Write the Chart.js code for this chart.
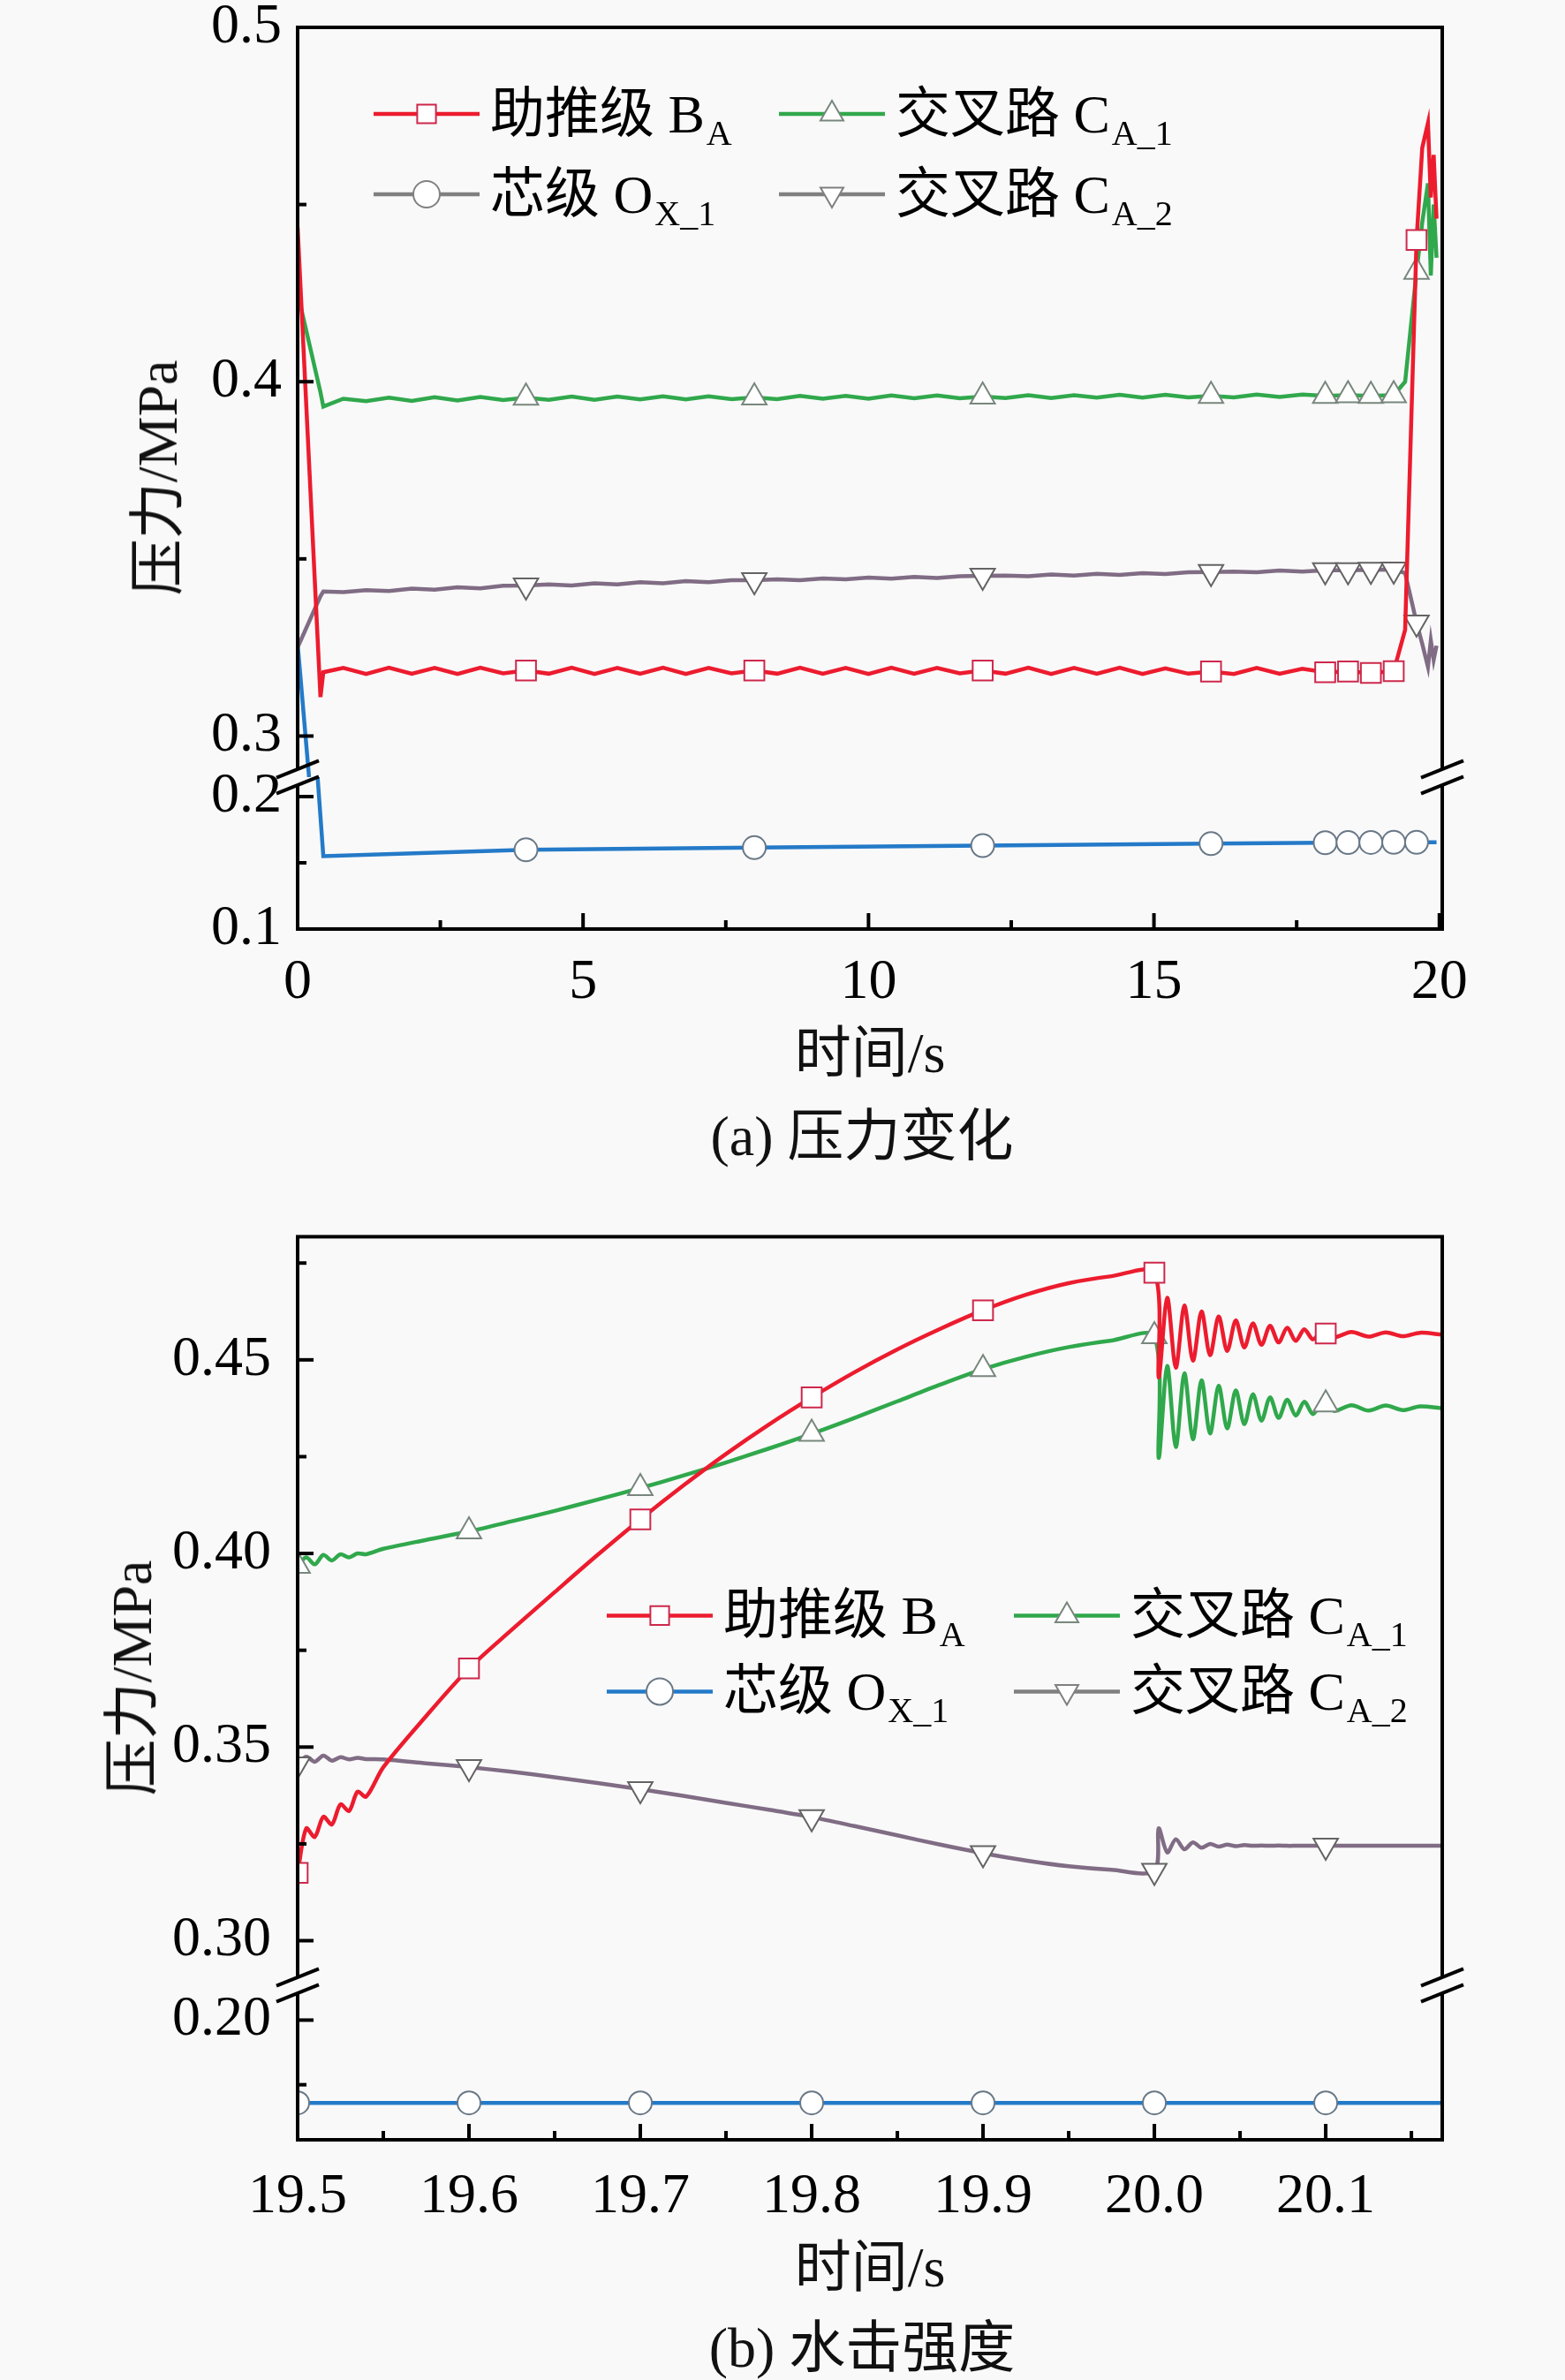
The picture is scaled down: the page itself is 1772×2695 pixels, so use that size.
<!DOCTYPE html>
<html>
<head>
<meta charset="utf-8">
<script src="https://cdn.jsdelivr.net/npm/chart.js@4.4.1/dist/chart.umd.min.js"></script>
<style>
  body { margin: 0; background: #f9f9f9; width: 1772px; height: 2695px; position: relative; overflow: hidden;
         font-family: "Liberation Serif", "Noto Sans CJK SC", serif; }
  .box { position: absolute; left: 0; width: 1772px; }
  .lbl { position: absolute; font-size: 64px; color: #111; white-space: nowrap; transform: translate(-50%, -50%); }
  .ylbl { transform: translate(-50%, -50%) rotate(-90deg); }
</style>
</head>
<body>
<div class="box" style="top:-20px;height:1172px"><canvas id="chartA"></canvas></div>
<div class="box" style="top:1340px;height:1200px"><canvas id="chartB"></canvas></div>

<div class="lbl" style="left:985px;top:1186px">时间/s</div>
<div class="lbl" style="left:976px;top:1280px">(a) 压力变化</div>
<div class="lbl ylbl" style="left:172px;top:541px">压力/MPa</div>
<div class="lbl" style="left:985px;top:2561px">时间/s</div>
<div class="lbl" style="left:976px;top:2652px">(b) 水击强度</div>
<div class="lbl ylbl" style="left:143px;top:1900px">压力/MPa</div>

<script>
// ---- (a) 压力变化, 0 ~ 20 s ----
const topTime = [0, 0.4, 0.45,
  0.8, 1.2, 1.6, 2.0, 2.4, 2.8, 3.2, 3.6, 4.0, 4.4, 4.8, 5.2,
  5.6, 6.0, 6.4, 6.8, 7.2, 7.6, 8.0, 8.4, 8.8, 9.2, 9.6, 10.0,
  10.4, 10.8, 11.2, 11.6, 12.0, 12.4, 12.8, 13.2, 13.6, 14.0, 14.4, 14.8,
  15.2, 15.6, 16.0, 16.4, 16.8, 17.2, 17.6, 18.0, 18.4, 18.8, 19.2,
  19.4, 19.6, 19.7, 19.8, 19.85, 19.9, 19.95]

// 助推级 B_A
const topBoost = [0.4435, 0.3110, 0.3180,
  0.3192, 0.3175, 0.3193, 0.3176, 0.3192, 0.3175, 0.3193, 0.3177, 0.3185, 0.3176, 0.3193, 0.3175,
  0.3192, 0.3176, 0.3193, 0.3175, 0.3192, 0.3177, 0.3185, 0.3176, 0.3193, 0.3176, 0.3192, 0.3175,
  0.3193, 0.3176, 0.3192, 0.3177, 0.3185, 0.3176, 0.3193, 0.3175, 0.3192, 0.3176, 0.3193, 0.3175,
  0.3191, 0.3176, 0.3182, 0.3175, 0.3192, 0.3176, 0.3190, 0.3180, 0.3182, 0.3178, 0.3183,
  0.3300, 0.4400, 0.4660, 0.4730, 0.4520, 0.4640, 0.4460]

// 交叉路 C_A_1
const topCross1 = [0.4250, 0.3970, 0.3930,
  0.3952, 0.3945, 0.3955, 0.3946, 0.3956, 0.3947, 0.3957, 0.3948, 0.3955, 0.3949, 0.3958, 0.3949,
  0.3958, 0.3950, 0.3959, 0.3950, 0.3959, 0.3951, 0.3956, 0.3951, 0.3960, 0.3952, 0.3960, 0.3952,
  0.3961, 0.3953, 0.3961, 0.3953, 0.3958, 0.3954, 0.3962, 0.3954, 0.3962, 0.3955, 0.3963, 0.3955,
  0.3963, 0.3956, 0.3960, 0.3956, 0.3964, 0.3957, 0.3964, 0.3960, 0.3962, 0.3960, 0.3962,
  0.4000, 0.4310, 0.4450, 0.4560, 0.4300, 0.4500, 0.4350]

// 交叉路 C_A_2
const topCross2 = [0.3250, 0.3395, 0.3408,
  0.3406, 0.3412, 0.3409, 0.3416, 0.3413, 0.3420, 0.3417, 0.3424, 0.3425, 0.3428, 0.3425, 0.3431,
  0.3428, 0.3434, 0.3431, 0.3437, 0.3434, 0.3440, 0.3440, 0.3442, 0.3440, 0.3445, 0.3442, 0.3447,
  0.3444, 0.3449, 0.3446, 0.3451, 0.3452, 0.3453, 0.3451, 0.3456, 0.3453, 0.3458, 0.3455, 0.3460,
  0.3457, 0.3462, 0.3463, 0.3464, 0.3462, 0.3467, 0.3464, 0.3468, 0.3468, 0.3469, 0.3470,
  0.3460, 0.3320, 0.3260, 0.3195, 0.3270, 0.3215, 0.3255]

// 芯级 O_X_1 (starts above the axis break, then drops below it)
const topCoreHeadTime = [0, 0.2]
const topCoreHead = [0.3260, 0.2884]
const topCoreTime = [0.35, 0.45, 4, 8, 12, 16, 18, 18.4, 18.8, 19.2, 19.6, 19.95]
const topCore = [0.2147, 0.1550, 0.1598, 0.1615, 0.1630, 0.1645, 0.1652, 0.1653, 0.1654, 0.1655, 0.1655, 0.1656]

const topMarks = [4, 8, 12, 16, 18, 18.4, 18.8, 19.2, 19.6]
const topXMajor = [0, 5, 10, 15, 20]
const topXMinor = [2.5, 7.5, 12.5, 17.5]
const topHiMajor = [0.3, 0.4, 0.5]
const topHiMinor = [0.35, 0.45]
const topLoMajor = [0.1, 0.2]
const topLoMinor = [0.15]

// ---- (b) 水击强度, 19.5 ~ 20.17 s ----
const botTime = [19.5, 19.505, 19.51, 19.515, 19.52, 19.525, 19.53, 19.535, 19.54,
  19.55, 19.575, 19.6, 19.625, 19.65, 19.675, 19.7, 19.725, 19.75, 19.775,
  19.8, 19.825, 19.85, 19.875, 19.9, 19.925, 19.95, 19.975, 20.0,
  20.0025, 20.0075, 20.0125, 20.0175, 20.0225, 20.0275, 20.0325, 20.0375, 20.0425, 20.0475,
  20.0525, 20.0575, 20.0625, 20.0675, 20.0725, 20.0775, 20.0825, 20.0875, 20.0925, 20.0975,
  20.1, 20.105, 20.115, 20.125, 20.135, 20.145, 20.155, 20.168]

const botBoost = [0.3175, 0.3290, 0.3268, 0.3320, 0.3300, 0.3352, 0.3335, 0.3385, 0.3372,
  0.3448, 0.3580, 0.3703, 0.3803, 0.3900, 0.3996, 0.4088, 0.4175, 0.4257, 0.4333,
  0.4403, 0.4468, 0.4527, 0.4580, 0.4628, 0.4668, 0.4698, 0.4716, 0.4725,
  0.4455, 0.4660, 0.4480, 0.4640, 0.4498, 0.4625, 0.4512, 0.4612, 0.4523, 0.4602,
  0.4532, 0.4594, 0.4539, 0.4588, 0.4545, 0.4583, 0.4549, 0.4579, 0.4553, 0.4575,
  0.4568, 0.4558, 0.4572, 0.4560, 0.4571, 0.4561, 0.4570, 0.4565]

const botCross1 = [0.3968, 0.3990, 0.3972, 0.3996, 0.3982, 0.3998, 0.3990, 0.4000, 0.3998,
  0.4012, 0.4035, 0.4057, 0.4083, 0.4110, 0.4139, 0.4169, 0.4201, 0.4235, 0.4271,
  0.4309, 0.4350, 0.4393, 0.4436, 0.4476, 0.4508, 0.4533, 0.4550, 0.4561,
  0.4247, 0.4484, 0.4275, 0.4465, 0.4295, 0.4447, 0.4310, 0.4433, 0.4323, 0.4421,
  0.4334, 0.4411, 0.4343, 0.4403, 0.4350, 0.4397, 0.4356, 0.4392, 0.4360, 0.4388,
  0.4385, 0.4368, 0.4383, 0.4369, 0.4382, 0.4370, 0.4380, 0.4375]

const botCross2 = [0.3455, 0.3475, 0.3462, 0.3478, 0.3465, 0.3474, 0.3468, 0.3472, 0.3469,
  0.3468, 0.3458, 0.3448, 0.3436, 0.3422, 0.3407, 0.3391, 0.3374, 0.3356, 0.3338,
  0.3319, 0.3296, 0.3272, 0.3248, 0.3226, 0.3207, 0.3192, 0.3183, 0.3180,
  0.3290, 0.3228, 0.3262, 0.3236, 0.3254, 0.3240, 0.3250, 0.3243, 0.3248, 0.3244,
  0.3247, 0.3245, 0.3246, 0.3245, 0.3246, 0.3245, 0.3245, 0.3245, 0.3245, 0.3245,
  0.3245, 0.3245, 0.3245, 0.3245, 0.3245, 0.3245, 0.3245, 0.3245]

const botCoreTime = [19.5, 19.6, 19.7, 19.8, 19.9, 20.0, 20.1, 20.168]
const botCore = [0.168, 0.168, 0.168, 0.168, 0.168, 0.168, 0.168, 0.168]

const botMarks = [19.5, 19.6, 19.7, 19.8, 19.9, 20.0, 20.1]
const botXMajor = [19.5, 19.6, 19.7, 19.8, 19.9, 20.0, 20.1]
const botXMinor = [19.55, 19.65, 19.75, 19.85, 19.95, 20.05, 20.15]
const botHiMajor = [0.30, 0.35, 0.40, 0.45]
const botHiMinor = [0.325, 0.375, 0.425, 0.475]
const botLoMajor = [0.20]
const botLoMinor = [0.175]

// ---- style ----
const RED = "rgb(236,28,46)", RED_M = "rgb(205,40,75)"
const GREEN = "rgb(48,168,76)", GREEN_M = "rgb(120,135,125)"
const BLUE = "rgb(36,122,200)", BLUE_M = "rgb(105,120,135)"
const PURP = "rgb(128,108,132)", PURP_M = "rgb(100,100,100)"
const GRAY = "rgb(128,128,128)"
const BG = "#f9f9f9"
const FONT = '"Liberation Serif", "Noto Sans CJK SC", serif'

Chart.defaults.font.family = FONT
Chart.defaults.color = "#000"

function series(times, values) {
  return times.map((t, i) => ({ x: t, y: values[i] }))
}
function isMark(x, list) {
  return list.some(m => Math.abs(m - x) < 1e-6)
}

function drawMark(ctx, style, x, y, r, stroke) {
  ctx.beginPath()
  if (style === "rect") {
    const s = r * Math.SQRT1_2
    ctx.rect(x - s, y - s, 2 * s, 2 * s)
  } else if (style === "circle") {
    ctx.arc(x, y, r, 0, 2 * Math.PI)
  } else {
    const d = style === "down" ? -1 : 1
    ctx.moveTo(x, y - r * d)
    ctx.lineTo(x - r * 0.866, y + r * 0.5 * d)
    ctx.lineTo(x + r * 0.866, y + r * 0.5 * d)
    ctx.closePath()
  }
  ctx.fillStyle = "#fff"
  ctx.fill()
  ctx.strokeStyle = stroke
  ctx.lineWidth = 2
  ctx.stroke()
}

function drawBreak(ctx, x, y) {
  const h = 9, w = 24, k = 0.4
  ctx.save()
  ctx.fillStyle = BG
  ctx.beginPath()
  ctx.moveTo(x - 8, y - h + 8 * k)
  ctx.lineTo(x + 8, y - h - 8 * k)
  ctx.lineTo(x + 8, y + h - 8 * k)
  ctx.lineTo(x - 8, y + h + 8 * k)
  ctx.closePath()
  ctx.fill()
  ctx.strokeStyle = "#000"
  ctx.lineWidth = 4
  ;[-h, h].forEach(d => {
    ctx.beginPath()
    ctx.moveTo(x - w, y + d + w * k)
    ctx.lineTo(x + w, y + d - w * k)
    ctx.stroke()
  })
  ctx.restore()
}

function drawLegend(ctx, a, L) {
  L.items.forEach((it, i) => {
    const col = i % 2, row = Math.floor(i / 2)
    const x = a.left + L.dx + col * L.colDx
    const y = a.top + L.dy + row * L.rowDy
    ctx.strokeStyle = it.line
    ctx.lineWidth = 4.5
    ctx.beginPath()
    ctx.moveTo(x, y)
    ctx.lineTo(x + 120, y)
    ctx.stroke()
    drawMark(ctx, it.style, x + 60, y, 15, it.mark)
    ctx.fillStyle = "#000"
    ctx.textAlign = "left"
    ctx.textBaseline = "alphabetic"
    ctx.font = "62px " + FONT
    const tx = x + 132, base = y + 21
    ctx.fillText(it.text, tx, base)
    const w = ctx.measureText(it.text).width
    ctx.font = "40px " + FONT
    ctx.fillText(it.sub, tx + w + 2, base + 14)
  })
}

function decoPlugin(o) {
  return {
    id: "deco",
    afterDatasetsDraw(chart) {
      const ctx = chart.ctx, a = chart.chartArea
      ctx.save()
      ctx.strokeStyle = "#000"
      ctx.lineWidth = 4
      const tick = (s, majors, vertical) => {
        s.ticks.forEach(t => {
          const len = majors.includes(t.value) ? 18 : 10
          const p = s.getPixelForValue(t.value)
          ctx.beginPath()
          if (vertical) { ctx.moveTo(a.left, p); ctx.lineTo(a.left + len, p) }
          else { ctx.moveTo(p, a.bottom); ctx.lineTo(p, a.bottom - len) }
          ctx.stroke()
        })
      }
      tick(chart.scales.x, o.x.major, false)
      tick(chart.scales.yHigh, o.hi.major, true)
      tick(chart.scales.yLow, o.lo.major, true)
      ctx.strokeRect(a.left, a.top, a.width, a.height)
      const yb = chart.scales.yHigh.bottom
      drawBreak(ctx, a.left, yb)
      drawBreak(ctx, a.right, yb)
      drawLegend(ctx, a, o.legend)
      ctx.restore()
    }
  }
}

function axisOpts(ax, pad, extra) {
  return Object.assign({
    type: "linear",
    min: ax.min,
    max: ax.max,
    grid: { display: false },
    border: { display: false },
    afterBuildTicks: s => {
      s.ticks = ax.major.concat(ax.minor).sort((p, q) => p - q).map(v => ({ value: v }))
    },
    ticks: {
      autoSkip: false,
      maxRotation: 0,
      minRotation: 0,
      padding: pad,
      font: { size: 64 },
      color: "#000",
      callback: v => (ax.major.includes(v) ? ax.fmt(v) : "")
    }
  }, extra)
}

function lineSet(data, axis, color, markColor, style, rot, marks, tension) {
  return {
    data: data,
    yAxisID: axis,
    borderColor: color,
    borderWidth: 4.5,
    pointStyle: style,
    pointRotation: rot,
    pointBackgroundColor: "#fff",
    pointBorderColor: markColor,
    pointBorderWidth: 2,
    pointRadius: c => (c.raw && marks && isMark(c.raw.x, marks) ? (style === "circle" ? 13 : 16) : 0),
    pointHoverRadius: 0,
    tension: tension || 0
  }
}

function makeChart(id, o) {
  return new Chart(document.getElementById(id), {
    type: "line",
    data: { datasets: o.datasets },
    options: {
      responsive: true,
      maintainAspectRatio: false,
      animation: false,
      events: [],
      layout: { padding: { top: o.padTop, right: 139, left: 0, bottom: 0 } },
      plugins: { legend: { display: false }, tooltip: { enabled: false } },
      scales: {
        x: axisOpts(o.x, o.xPad, { position: "bottom", afterFit: s => { s.height = o.xHeight } }),
        yLow: axisOpts(o.lo, o.yPad, { position: "left", stack: "v", stackWeight: o.lo.w, afterFit: s => { s.width = 337 } }),
        yHigh: axisOpts(o.hi, o.yPad, { position: "left", stack: "v", stackWeight: o.hi.w, afterFit: s => { s.width = 337 } })
      }
    },
    plugins: [decoPlugin(o)]
  })
}

const legendItemsA = [
  { text: "助推级 B", sub: "A", line: RED, mark: RED_M, style: "rect" },
  { text: "交叉路 C", sub: "A_1", line: GREEN, mark: GREEN_M, style: "up" },
  { text: "芯级 O", sub: "X_1", line: GRAY, mark: GRAY, style: "circle" },
  { text: "交叉路 C", sub: "A_2", line: GRAY, mark: GRAY, style: "down" }
]
const legendItemsB = [
  { text: "助推级 B", sub: "A", line: RED, mark: RED_M, style: "rect" },
  { text: "交叉路 C", sub: "A_1", line: GREEN, mark: GREEN_M, style: "up" },
  { text: "芯级 O", sub: "X_1", line: BLUE, mark: BLUE_M, style: "circle" },
  { text: "交叉路 C", sub: "A_2", line: GRAY, mark: GRAY, style: "down" }
]

makeChart("chartA", {
  padTop: 51, xHeight: 100, xPad: 15, yPad: 10,
  x: { min: 0, max: 20.05, major: topXMajor, minor: topXMinor, fmt: v => String(v) },
  hi: { min: 0.2884, max: 0.5, w: 849, major: topHiMajor, minor: topHiMinor, fmt: v => v.toFixed(1) },
  lo: { min: 0.1, max: 0.2147, w: 172, major: topLoMajor, minor: topLoMinor, fmt: v => v.toFixed(1) },
  legend: { dx: 86, dy: 98, colDx: 459, rowDy: 91, items: legendItemsA },
  datasets: [
    lineSet(series(topTime, topBoost), "yHigh", RED, RED_M, "rect", 0, topMarks),
    lineSet(series(topTime, topCross1), "yHigh", GREEN, GREEN_M, "triangle", 0, topMarks),
    lineSet(series(topTime, topCross2), "yHigh", PURP, PURP_M, "triangle", 180, topMarks),
    lineSet(series(topCoreHeadTime, topCoreHead), "yHigh", BLUE, BLUE_M, "circle", 0, null),
    lineSet(series(topCoreTime, topCore), "yLow", BLUE, BLUE_M, "circle", 0, topMarks)
  ]
})

makeChart("chartB", {
  padTop: 49, xHeight: 117, xPad: 19, yPad: 22,
  x: { min: 19.5, max: 20.168, major: botXMajor, minor: botXMinor, fmt: v => v.toFixed(1) },
  hi: { min: 0.2885, max: 0.4818, w: 857, major: botHiMajor, minor: botHiMinor, fmt: v => v.toFixed(2) },
  lo: { min: 0.1537, max: 0.2135, w: 177, major: botLoMajor, minor: botLoMinor, fmt: v => v.toFixed(2) },
  legend: { dx: 350, dy: 429, colDx: 461, rowDy: 86, items: legendItemsB },
  datasets: [
    lineSet(series(botTime, botBoost), "yHigh", RED, RED_M, "rect", 0, botMarks, 0.3),
    lineSet(series(botTime, botCross1), "yHigh", GREEN, GREEN_M, "triangle", 0, botMarks, 0.3),
    lineSet(series(botTime, botCross2), "yHigh", PURP, PURP_M, "triangle", 180, botMarks, 0.3),
    lineSet(series(botCoreTime, botCore), "yLow", BLUE, BLUE_M, "circle", 0, botMarks)
  ]
})
</script>
</body>
</html>
